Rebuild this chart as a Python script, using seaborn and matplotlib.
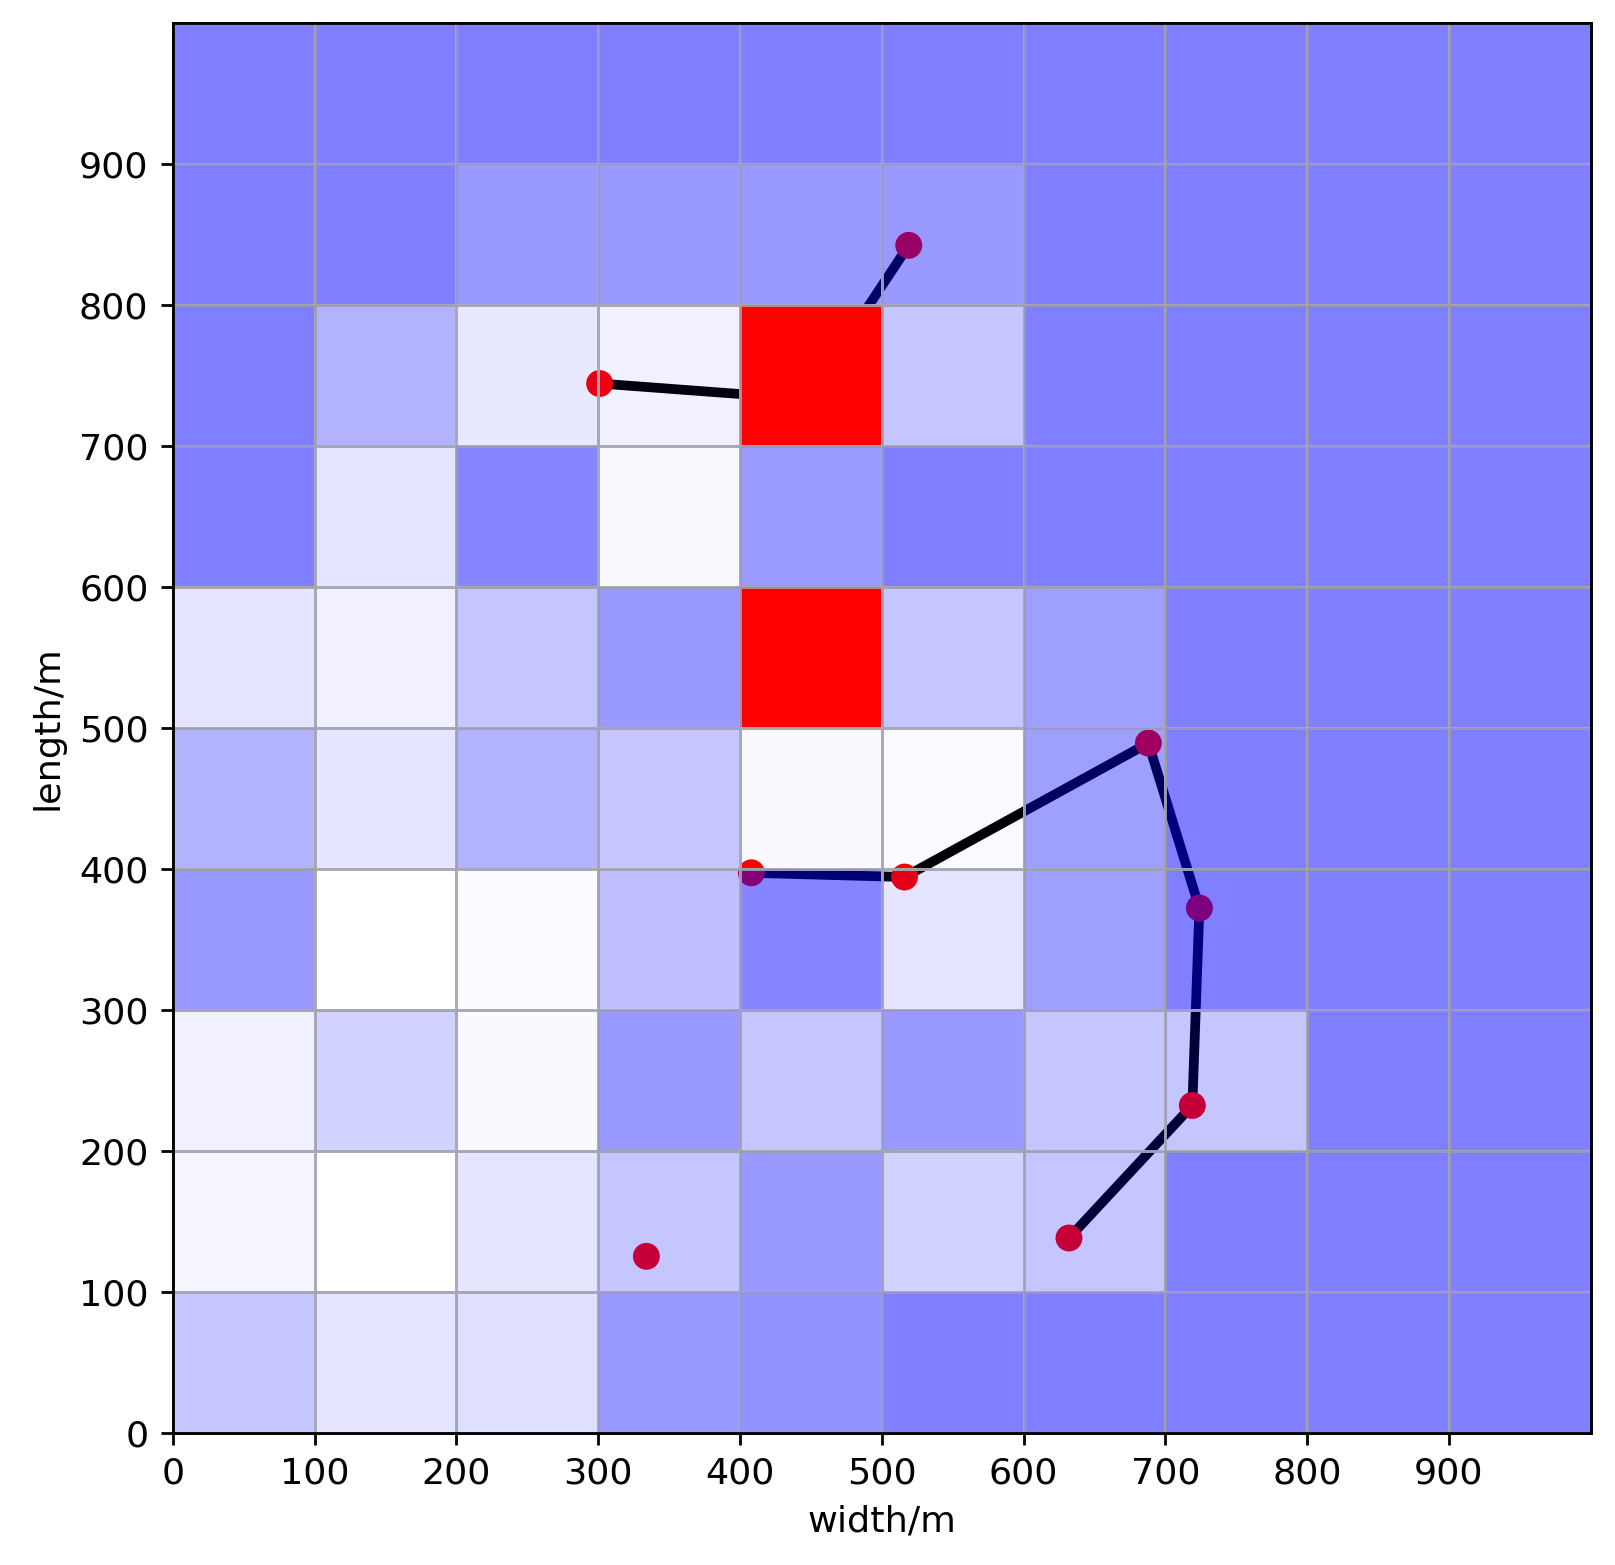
import numpy as np
import matplotlib
matplotlib.use('Agg')
import matplotlib.pyplot as plt
from matplotlib.colors import LinearSegmentedColormap
import seaborn as sns

sns.set_style("white")
plt.rcParams['font.family'] = ['DejaVu Sans']
plt.rcParams['font.size'] = 10
plt.rcParams['text.color'] = 'black'
plt.rcParams['axes.labelcolor'] = 'black'
plt.rcParams['xtick.color'] = 'black'
plt.rcParams['ytick.color'] = 'black'

# shading level of each 100 m x 100 m cell, top row (length 900-1000 m) first
# 0 = white, 1 = darkest blue
cell_levels = [
    [1.00, 1.00, 1.00, 1.00, 1.00, 1.00, 1.00, 1.00, 1.00, 1.00],
    [1.00, 1.00, 0.80, 0.80, 0.80, 0.80, 1.00, 1.00, 1.00, 1.00],
    [1.00, 0.60, 0.18, 0.12, 0.00, 0.45, 1.00, 1.00, 1.00, 1.00],
    [1.00, 0.20, 0.95, 0.05, 0.78, 1.00, 1.00, 1.00, 1.00, 1.00],
    [0.20, 0.12, 0.45, 0.80, 0.00, 0.45, 0.75, 1.00, 1.00, 1.00],
    [0.60, 0.20, 0.60, 0.45, 0.05, 0.03, 0.75, 1.00, 1.00, 1.00],
    [0.80, 0.00, 0.03, 0.50, 0.95, 0.20, 0.75, 1.00, 1.00, 1.00],
    [0.12, 0.35, 0.05, 0.80, 0.45, 0.80, 0.45, 0.45, 1.00, 1.00],
    [0.08, 0.00, 0.20, 0.45, 0.80, 0.35, 0.45, 1.00, 1.00, 1.00],
    [0.45, 0.20, 0.25, 0.80, 0.85, 1.00, 1.00, 1.00, 1.00, 1.00],
]

# red cells, lower-left corner (m)
hot_x = [400, 400]
hot_y = [700, 500]

# tracks (m)
track1_x = [301, 447, 519]
track1_y = [744, 733, 842]
track2_x = [408, 516, 688, 724, 719, 632]
track2_y = [397, 394, 489, 372, 232, 138]
single_x = [334]
single_y = [125]

cells = np.array(cell_levels, dtype=float)
for hx, hy in zip(hot_x, hot_y):
    cells[9 - hy // 100, hx // 100] = 2.0

# translucent blue overlay; values above 1 become solid red
overlay = LinearSegmentedColormap.from_list(
    'overlay', [(0, 0, 1, 0.0), (0, 0, 1, 0.5)])
overlay.set_over((1, 0, 0, 1))

fig = plt.figure(figsize=(6.46, 6.26), dpi=250)
ax = fig.add_axes([0.107, 0.0846, 0.878, 0.901])

for tx, ty in [(track1_x, track1_y), (track2_x, track2_y)]:
    sns.lineplot(x=tx, y=ty, sort=False, estimator=None, color='black',
                 linewidth=2.8, ax=ax)
sns.scatterplot(x=track1_x + track2_x + single_x,
                y=track1_y + track2_y + single_y,
                color='red', s=60, edgecolor='none', zorder=3, ax=ax)

ax.set_xlim(0, 1000)
ax.set_ylim(0, 1000)
ax.set_xticks(range(0, 1000, 100))
ax.set_yticks(range(0, 1000, 100))
ax.tick_params(axis='both', direction='out', length=3.5, width=0.8,
               color='black', labelsize=10.5, bottom=True, left=True)
ax.set_xlabel('width/m', fontsize=10.5)
ax.set_ylabel('length/m', fontsize=10.5)

# heatmap overlay on top, same position
hax = fig.add_axes(ax.get_position(), zorder=ax.get_zorder() + 1)
sns.heatmap(cells, cmap=overlay, vmin=0, vmax=1, cbar=False,
            linewidths=0.8, linecolor=(0.66, 0.66, 0.70, 0.8), ax=hax)
hax.set_facecolor('none')
hax.set_xticks([])
hax.set_yticks([])
for sp in hax.spines.values():
    sp.set_visible(True)
    sp.set_color('black')
    sp.set_linewidth(0.8)

fig.savefig('out.png', dpi=250, facecolor='white')
